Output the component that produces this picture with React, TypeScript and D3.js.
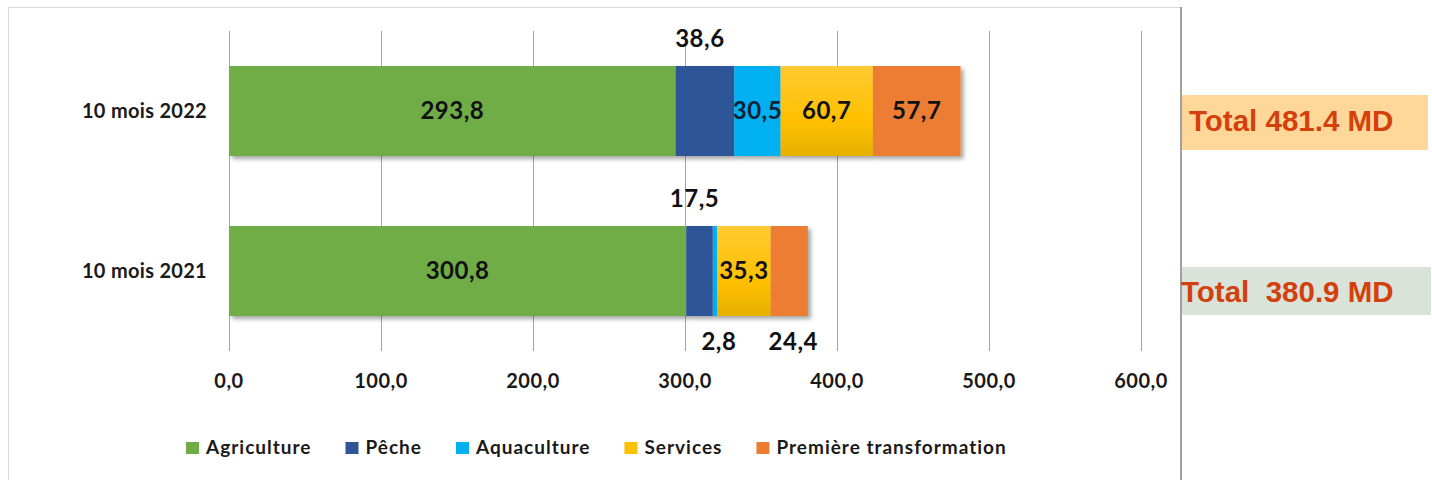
import React, { useEffect, useRef } from 'react';
import * as d3 from 'd3';

// Chart data
const periods = ['10 mois 2022', '10 mois 2021'];
const sectors = ['Agriculture', 'Pêche', 'Aquaculture', 'Services', 'Première transformation'];
const agriculture = [293.8, 300.8];
const peche = [38.6, 17.5];
const aquaculture = [30.5, 2.8];
const services = [60.7, 35.3];
const premiereTransformation = [57.7, 24.4];
const totalLabels = ['Total 481.4 MD', 'Total  380.9 MD'];
const xTicks = [0, 100, 200, 300, 400, 500, 600];

const colors = ['#70AD47', '#2F5597', '#00B0F0', '#FFC000', '#ED7D31'];
// where each value label sits: inside the segment, above or below the bar
const labelPlace = [
  ['in', 'above', 'in', 'in', 'in'],
  ['in', 'above', 'below', 'in', 'below'],
];
const totalBoxColors = ['#FFD899', '#D9E3DA'];

const W = 1432;
const H = 480;
const FONT = 'Lato, "Open Sans", sans-serif';

const fmt = (v: number) => d3.format('.1f')(v).replace('.', ',');

export default function App() {
  const svgRef = useRef<SVGSVGElement>(null);

  useEffect(() => {
    if (!svgRef.current) return;
    const svg = d3.select(svgRef.current);
    svg.selectAll('*').remove();

    const series = [agriculture, peche, aquaculture, services, premiereTransformation];
    const rows = periods.map((p, i) => {
      const r: any = { period: p };
      sectors.forEach((s, j) => (r[s] = series[j][i]));
      return r;
    });
    const stacked = d3.stack<any>().keys(sectors)(rows);

    const x = d3.scaleLinear().domain([0, 600]).range([229, 1141]);
    const y = d3.scaleBand<string>().domain(periods).range([31, 351])
      .paddingInner(0.4375).paddingOuter(0.21875);

    const defs = svg.append('defs');
    const shadow = defs.append('filter').attr('id', 'shadow')
      .attr('x', '-5%').attr('y', '-20%').attr('width', '115%').attr('height', '150%');
    shadow.append('feDropShadow').attr('dx', 3).attr('dy', 3)
      .attr('stdDeviation', 2).attr('flood-color', '#000').attr('flood-opacity', 0.35);
    const grad = defs.append('linearGradient').attr('id', 'yellowGrad')
      .attr('x1', 0).attr('y1', 0).attr('x2', 0).attr('y2', 1);
    grad.append('stop').attr('offset', '0%').attr('stop-color', '#FFCA32');
    grad.append('stop').attr('offset', '60%').attr('stop-color', '#FFC000');
    grad.append('stop').attr('offset', '100%').attr('stop-color', '#E6B000');

    // chart frame
    svg.append('line').attr('x1', 8.5).attr('x2', 8.5).attr('y1', 7).attr('y2', H)
      .attr('stroke', '#D9D9D9');
    svg.append('line').attr('x1', 8).attr('x2', 1181).attr('y1', 7.5).attr('y2', 7.5)
      .attr('stroke', '#D9D9D9');
    svg.append('line').attr('x1', 1181).attr('x2', 1181).attr('y1', 7).attr('y2', H)
      .attr('stroke', '#A0A0A0').attr('stroke-width', 2);

    // gridlines
    svg.append('g').selectAll('line').data(xTicks).join('line')
      .attr('x1', d => Math.round(x(d)) + 0.5).attr('x2', d => Math.round(x(d)) + 0.5)
      .attr('y1', 31).attr('y2', 351)
      .attr('stroke', '#A6A6A6').attr('stroke-width', 1);

    // tick labels
    svg.append('g').selectAll('text').data(xTicks).join('text')
      .attr('x', d => x(d)).attr('y', 388)
      .attr('text-anchor', 'middle')
      .style('font-family', FONT).style('font-weight', 700).style('font-size', '20px')
      .style('letter-spacing', '0.5px')
      .attr('fill', '#1a1a1a')
      .text(d => fmt(d));

    // category labels
    svg.append('g').selectAll('text').data(periods).join('text')
      .attr('x', 207).attr('y', d => (y(d) as number) + y.bandwidth() / 2 + 7)
      .attr('text-anchor', 'end')
      .style('font-family', FONT).style('font-weight', 700).style('font-size', '20px')
      .style('letter-spacing', '0.3px')
      .attr('fill', '#1a1a1a')
      .text(d => d);

    // bars
    const barG = svg.append('g').attr('filter', 'url(#shadow)');
    stacked.forEach((layer, j) => {
      barG.append('g').selectAll('rect').data(layer).join('rect')
        .attr('x', d => x(d[0]))
        .attr('y', d => y(d.data.period) as number)
        .attr('width', d => x(d[1]) - x(d[0]))
        .attr('height', y.bandwidth())
        .attr('fill', j === 3 ? 'url(#yellowGrad)' : colors[j]);
    });

    // value labels
    const lab = svg.append('g')
      .style('font-family', FONT).style('font-weight', 700).style('font-size', '24px')
      .style('letter-spacing', '0.5px')
      .attr('fill', '#111');
    stacked.forEach((layer, j) => {
      layer.forEach((d, i) => {
        const place = labelPlace[i][j];
        const top = y(d.data.period) as number;
        let cx = (x(d[0]) + x(d[1])) / 2;
        let cy = top + y.bandwidth() / 2 + 8;
        if (place === 'above') { cy = top - 19; cx -= 5; }
        if (place === 'below') { cy = top + y.bandwidth() + 34; cx += 4; }
        lab.append('text').attr('x', cx).attr('y', cy).attr('text-anchor', 'middle')
          .attr('fill', j === 2 && place === 'in' ? '#0F1F3A' : '#111')
          .text(fmt(series[j][i]));
      });
    });

    // legend
    const leg = svg.append('g');
    let lx = 186;
    sectors.forEach((s, j) => {
      leg.append('rect').attr('x', lx).attr('y', 442).attr('width', 13).attr('height', 12)
        .attr('fill', colors[j]);
      const t = leg.append('text').attr('x', lx + 20).attr('y', 454)
        .style('font-family', FONT).style('font-weight', 700).style('font-size', '19px')
        .style('letter-spacing', '1px')
        .attr('fill', '#1a1a1a').text(s);
      const w = (t.node() as SVGTextElement).getComputedTextLength();
      lx += 20 + w + 34;
    });

    // total boxes
    const boxes = [
      { y0: 95, y1: 150, tx: 1189, ty: 131 },
      { y0: 267, y1: 315, tx: 1181, ty: 302 },
    ];
    boxes.forEach((b, i) => {
      svg.append('rect').attr('x', 1182).attr('y', b.y0).attr('width', i === 0 ? 246 : 249)
        .attr('height', b.y1 - b.y0).attr('fill', totalBoxColors[i]);
      svg.append('text').attr('x', b.tx).attr('y', b.ty)
        .attr('xml:space', 'preserve').style('white-space', 'pre')
        .style('font-family', '"Liberation Sans", Arial, sans-serif')
        .style('font-weight', 700).style('font-size', '29.5px')
        .attr('fill', '#D4400C')
        .text(totalLabels[i]);
    });
  }, []);

  return (
    <svg ref={svgRef} width={W} height={H}
      style={{ position: 'absolute', left: 0, top: 0, background: '#fff' }} />
  );
}
